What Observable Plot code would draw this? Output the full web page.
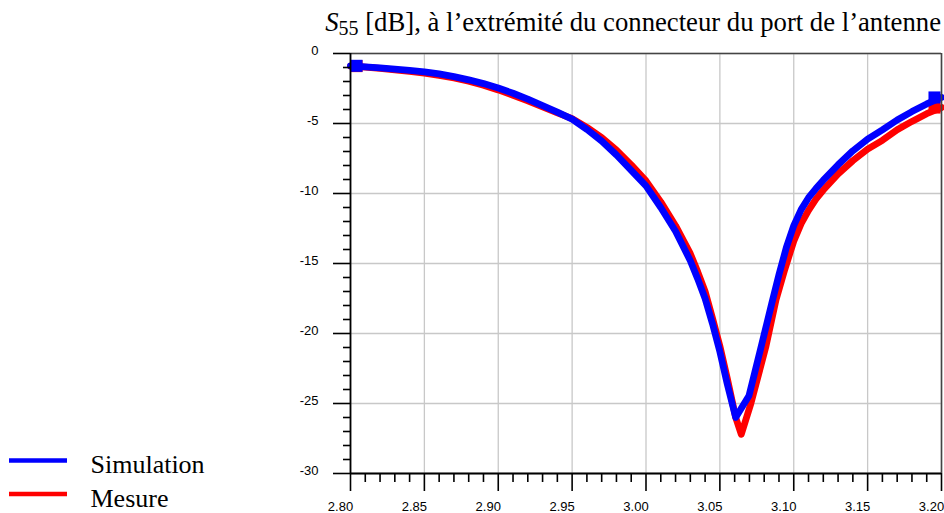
<!DOCTYPE html>
<html><head><meta charset="utf-8">
<script src="https://cdn.jsdelivr.net/npm/d3@7"></script>
<script src="https://cdn.jsdelivr.net/npm/@observablehq/plot@0.6"></script>
<style>
body{margin:0;background:#fff;}
#wrap{position:relative;width:944px;height:513px;overflow:hidden;background:#fff;}
#wrap svg{position:absolute;left:0;top:0;}
</style></head><body>
<div id="wrap"></div>
<script>
// ---- data ----
const freqSim = [2.80,2.81,2.82,2.83,2.84,2.85,2.86,2.87,2.88,2.89,2.90,2.91,2.92,2.93,2.94,2.95,2.96,2.97,2.98,2.99,3.00,3.01,3.02,3.03,3.035,3.04,3.045,3.05,3.055,3.0607,3.0697,3.0785,3.085,3.09,3.095,3.10,3.105,3.11,3.115,3.12,3.13,3.14,3.15,3.16,3.17,3.18,3.19,3.20];
const s55Sim  = [-0.88,-0.95,-1.03,-1.12,-1.21,-1.31,-1.46,-1.65,-1.88,-2.15,-2.47,-2.84,-3.26,-3.72,-4.19,-4.69,-5.42,-6.25,-7.25,-8.35,-9.45,-11.0,-12.7,-14.8,-16.1,-17.5,-19.3,-21.3,-23.6,-26.0,-24.45,-20.7,-17.9,-15.8,-13.85,-12.3,-11.15,-10.3,-9.65,-9.05,-7.95,-6.95,-6.11,-5.45,-4.75,-4.15,-3.6,-3.14];
const freqMes = [2.80,2.81,2.82,2.83,2.84,2.85,2.86,2.87,2.88,2.89,2.90,2.91,2.92,2.93,2.94,2.95,2.96,2.97,2.98,2.99,3.00,3.01,3.02,3.03,3.035,3.04,3.045,3.05,3.055,3.0607,3.0645,3.071,3.081,3.088,3.094,3.10,3.105,3.11,3.115,3.12,3.13,3.14,3.15,3.16,3.17,3.18,3.19,3.20];
const s55Mes  = [-0.90,-0.98,-1.07,-1.17,-1.28,-1.40,-1.56,-1.75,-1.98,-2.26,-2.60,-2.98,-3.38,-3.82,-4.24,-4.65,-5.28,-6.00,-6.90,-7.95,-9.10,-10.6,-12.3,-14.3,-15.6,-17.0,-18.9,-20.9,-23.2,-26.0,-27.2,-25.0,-21.0,-17.6,-15.4,-13.4,-12.15,-11.2,-10.4,-9.75,-8.6,-7.65,-6.83,-6.2,-5.45,-4.85,-4.3,-3.86];
const seriesNames  = ["Simulation", "Mesure"];
const seriesColors = ["#0000ff", "#ff0000"];
const xMajorTicks = [2.80,2.85,2.90,2.95,3.00,3.05,3.10,3.15,3.20];
const yMajorTicks = [0,-5,-10,-15,-20,-25,-30];
const xMinorTicks = d3.range(0,41).map(i => +(2.80 + i*0.01).toFixed(2)).filter(v => !xMajorTicks.some(t => Math.abs(t-v) < 1e-9));
const yMinorTicks = d3.range(0,31).map(i => -i).filter(v => v % 5 !== 0);
const titleSymbol = "S";
const titleSub = "55";
const titleRest = " [dB], à l\u2019extrémité du connecteur du port de l\u2019antenne";

// ---- build ----
const sim = freqSim.map((f,i) => ({f, v: s55Sim[i]}));
const mes = freqMes.map((f,i) => ({f, v: s55Mes[i]}));
const tickStyle = {stroke: "#000", strokeWidth: 1.6, label: null};

const chart = Plot.plot({
  width: 944, height: 513,
  marginLeft: 350, marginRight: 3, marginTop: 53, marginBottom: 40,
  style: {fontFamily: "'Liberation Sans', Arial, sans-serif", fontSize: "13px", color: "#000", background: "transparent", overflow: "visible"},
  x: {domain: [2.8, 3.2], label: null},
  y: {domain: [-30, 0], label: null},
  marks: [
    Plot.gridX(xMajorTicks, {stroke: "#c8c8c8", strokeOpacity: 1, strokeWidth: 1.3}),
    Plot.gridY(yMajorTicks, {stroke: "#c8c8c8", strokeOpacity: 1, strokeWidth: 1.3}),
    Plot.line(mes, {x: "f", y: "v", stroke: seriesColors[1], strokeWidth: 6.8, strokeLinejoin: "round"}),
    Plot.dot([mes[0]], {x: "f", y: "v", symbol: "square", r: 6.8, fill: seriesColors[1], dx: 6}),
    Plot.dot([mes[mes.length-1]], {x: "f", y: "v", symbol: "square", r: 6.8, fill: seriesColors[1], dx: -7}),
    Plot.line(sim, {x: "f", y: "v", stroke: seriesColors[0], strokeWidth: 6.8, strokeLinejoin: "round"}),
    Plot.dot([sim[0]], {x: "f", y: "v", symbol: "square", r: 6.8, fill: seriesColors[0], dx: 6}),
    Plot.dot([sim[sim.length-1]], {x: "f", y: "v", symbol: "square", r: 6.8, fill: seriesColors[0], dx: -7}),
    Plot.ruleY([0], {stroke: "#444", strokeWidth: 1.6}),
    Plot.ruleX([3.2], {stroke: "#444", strokeWidth: 1.6}),
    Plot.ruleX([2.8], {stroke: "#000", strokeWidth: 1.8}),
    Plot.ruleY([-30], {stroke: "#000", strokeWidth: 1.8}),
    Plot.axisX(xMajorTicks, {tickSize: 18, tickFormat: () => "", ...tickStyle}),
    Plot.axisX(xMinorTicks, {tickSize: 9, tickFormat: () => "", ...tickStyle}),
    Plot.axisX(xMajorTicks, {tickSize: 0, tickPadding: 28, dx: -10, tickFormat: d3.format(".2f"), label: null}),
    Plot.axisY(yMajorTicks, {tickSize: 17, tickFormat: () => "", ...tickStyle}),
    Plot.axisY(yMinorTicks, {tickSize: 7, tickFormat: () => "", ...tickStyle}),
    Plot.axisY(yMajorTicks, {tickSize: 0, tickPadding: 32, dy: -2.5, tickFormat: d => String(d), label: null})
  ]
});
const wrap = document.getElementById("wrap");
wrap.appendChild(chart);

// ---- title and legend overlay ----
const ov = d3.select(wrap).append("svg").attr("width", 944).attr("height", 513)
  .style("font-family", "'Liberation Serif', 'Times New Roman', serif");
const t = ov.append("text").attr("x", 941).attr("y", 31).attr("text-anchor", "end")
  .attr("font-size", 26.7).attr("fill", "#000");
t.append("tspan").attr("font-style", "italic").text(titleSymbol);
t.append("tspan").attr("font-size", 20).attr("dy", 4).text(titleSub);
t.append("tspan").attr("dy", -4).text(titleRest);

const legendY = [460.5, 494];
const legendTextY = [473, 507];
seriesNames.forEach((name, i) => {
  ov.append("line").attr("x1", 9).attr("x2", 67).attr("y1", legendY[i]).attr("y2", legendY[i])
    .attr("stroke", seriesColors[i]).attr("stroke-width", 4.3);
  ov.append("text").attr("x", 90.5).attr("y", legendTextY[i]).attr("font-size", 26)
    .attr("fill", "#000").text(name);
});
</script>
</body></html>
